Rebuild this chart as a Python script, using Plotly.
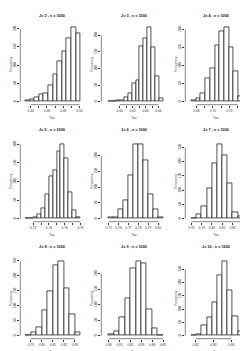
import plotly.graph_objects as go

W, H = 248, 351

titles = ["J= 2 , n = 1000", "J= 3 , n = 1000", "J= 4 , n = 1000",
          "J= 5 , n = 1000", "J= 6 , n = 1000", "J= 7 , n = 1000",
          "J= 8 , n = 1000", "J= 9 , n = 1000", "J= 10 , n = 1000"]

# histogram bins: first break and bin width per panel
bin_start = [0.4335, 0.583, 0.6738, 0.710, 0.750, 0.780, 0.785, 0.800, 0.8175]
bin_width = [0.00565, 0.006, 0.00568, 0.005, 0.005, 0.005, 0.005, 0.005, 0.00292]

counts_j2 = [3, 6, 11, 20, 23, 46, 75, 112, 138, 175, 204, 187]
counts_j3 = [2, 0, 3, 5, 12, 26, 55, 65, 166, 191, 224, 164, 77, 10]
counts_j4 = [4, 10, 23, 64, 92, 155, 195, 206, 151, 84, 16]
counts_j5 = [1, 2, 4, 13, 28, 66, 115, 131, 181, 200, 163, 70, 23, 3]
counts_j6 = [3, 6, 30, 57, 139, 236, 236, 184, 76, 30, 3]
counts_j7 = [2, 17, 43, 107, 193, 261, 224, 123, 23, 7]
counts_j8 = [3, 11, 27, 85, 149, 236, 249, 158, 71, 11]
counts_j9 = [6, 13, 58, 122, 217, 240, 233, 85, 24, 2]
counts_j10 = [1, 6, 38, 68, 125, 226, 280, 169, 72, 15]
counts = [counts_j2, counts_j3, counts_j4, counts_j5, counts_j6,
          counts_j7, counts_j8, counts_j9, counts_j10]

xticks = [
    [0.44, 0.45, 0.46, 0.47, 0.48, 0.49, 0.50],
    [0.60, 0.61, 0.62, 0.63, 0.64, 0.65, 0.66],
    [0.68, 0.69, 0.70, 0.71, 0.72, 0.73],
    [0.72, 0.73, 0.74, 0.75, 0.76, 0.77, 0.78],
    [0.75, 0.76, 0.77, 0.78, 0.79, 0.80],
    [0.78, 0.79, 0.80, 0.81, 0.82, 0.83],
    [0.79, 0.80, 0.81, 0.82, 0.83],
    [0.80, 0.81, 0.82, 0.83, 0.84, 0.85],
    [0.82, 0.83, 0.84],
]
xlabels = [
    ["0.44", "", "0.46", "", "0.48", "", "0.50"],
    ["0.60", "", "0.62", "", "0.64", "", "0.66"],
    ["0.68", "", "0.70", "", "0.72", ""],
    ["0.72", "", "0.74", "", "0.76", "", "0.78"],
    ["0.75", "0.76", "0.77", "0.78", "0.79", "0.80"],
    ["0.78", "0.79", "0.80", "0.81", "0.82", "0.83"],
    ["0.79", "0.80", "0.81", "0.82", "0.83"],
    ["0.80", "0.81", "0.82", "0.83", "0.84", "0.85"],
    ["0.82", "0.83", "0.84"],
]
ytick_step = 50

# layout (pixels)
col_px = [(12.3, 75.5), (93.3, 158.0), (177.3, 238.0)]
col_lpad = [5.0, 7.4, 6.0]
col_rpad = [3.0, 3.0, 3.0]
row_px = [(16.3, 96.7), (133.3, 213.7), (250.3, 330.7)]
title_y = [7.5, 121.5, 238.5]
taulab_dy = 12.8

FONT = "Liberation Sans, Arial, sans-serif"
fig = go.Figure()
annotations = []
shapes = []
for i in range(9):
    r, c = divmod(i, 3)
    n = i + 1
    xa = "x" if n == 1 else f"x{n}"
    ya = "y" if n == 1 else f"y{n}"
    cnt = counts[i]
    w = bin_width[i]
    x0 = bin_start[i]
    x1 = x0 + w * len(cnt)
    centers = [x0 + w * (k + 0.5) for k in range(len(cnt))]
    fig.add_trace(go.Bar(
        x=centers, y=cnt, width=[w] * len(cnt),
        marker=dict(color="white", line=dict(color="#1a1a1a", width=0.75)),
        xaxis=xa, yaxis=ya, showlegend=False, hoverinfo="skip"))
    L, R = col_px[c]
    T, B = row_px[r]
    S = (R - L) - col_lpad[c] - col_rpad[c]
    dpp = (x1 - x0) / S
    xr = [x0 - col_lpad[c] * dpp, x1 + col_rpad[c] * dpp]
    ymax = max(cnt)
    yr = [-0.04 * ymax, 1.04 * ymax]
    yt = [v for v in range(0, int(yr[1]) + 1, ytick_step)]
    axis_common = dict(showgrid=False, zeroline=False, showline=False,
                       ticks="outside", ticklen=2, tickwidth=0.6,
                       tickcolor="#333333",
                       tickfont=dict(size=3.2, color="#333333", family=FONT))
    fig.layout[("xaxis" if n == 1 else f"xaxis{n}")] = dict(
        domain=[L / W, R / W], range=xr, anchor=ya,
        tickmode="array", tickvals=xticks[i], ticktext=xlabels[i],
        tickangle=0, **axis_common)
    fig.layout[("yaxis" if n == 1 else f"yaxis{n}")] = dict(
        domain=[1 - B / H, 1 - T / H], range=yr, anchor=xa,
        tickmode="array", tickvals=yt, ticktext=[str(v) for v in yt],
        tickangle=-90, **axis_common)
    shapes.append(dict(type="line", xref=xa, yref=f"{ya} domain",
                       x0=xticks[i][0], x1=xticks[i][-1], y0=0, y1=0,
                       line=dict(color="#333333", width=0.6)))
    shapes.append(dict(type="line", xref=f"{xa} domain", yref=ya,
                       x0=0, x1=0, y0=yt[0], y1=yt[-1],
                       line=dict(color="#333333", width=0.6)))
    cx = (L + R) / 2 / W
    annotations.append(dict(text=f"<b>{titles[i]}</b>", x=cx, y=1 - title_y[r] / H,
                            xref="paper", yref="paper", showarrow=False,
                            xanchor="center", yanchor="middle",
                            width=34, height=6, borderpad=0,
                            font=dict(size=3.8, color="#111111", family=FONT)))
    annotations.append(dict(text="Tau", x=cx, y=1 - (B + taulab_dy) / H,
                            xref="paper", yref="paper", showarrow=False,
                            xanchor="center", yanchor="middle",
                            width=10, height=5, borderpad=0,
                            font=dict(size=3.2, color="#333333", family=FONT)))
    annotations.append(dict(text="Frequency", x=(L - 9.8) / W, y=1 - (T + B) / 2 / H,
                            xref="paper", yref="paper", showarrow=False,
                            textangle=-90, xanchor="center", yanchor="middle",
                            width=18, height=5, borderpad=0,
                            font=dict(size=3.2, color="#333333", family=FONT)))

fig.update_layout(width=W, height=H, margin=dict(l=0, r=0, t=0, b=0),
                  paper_bgcolor="white", plot_bgcolor="white",
                  bargap=0, annotations=annotations, shapes=shapes)
fig.write_html("out.html")
